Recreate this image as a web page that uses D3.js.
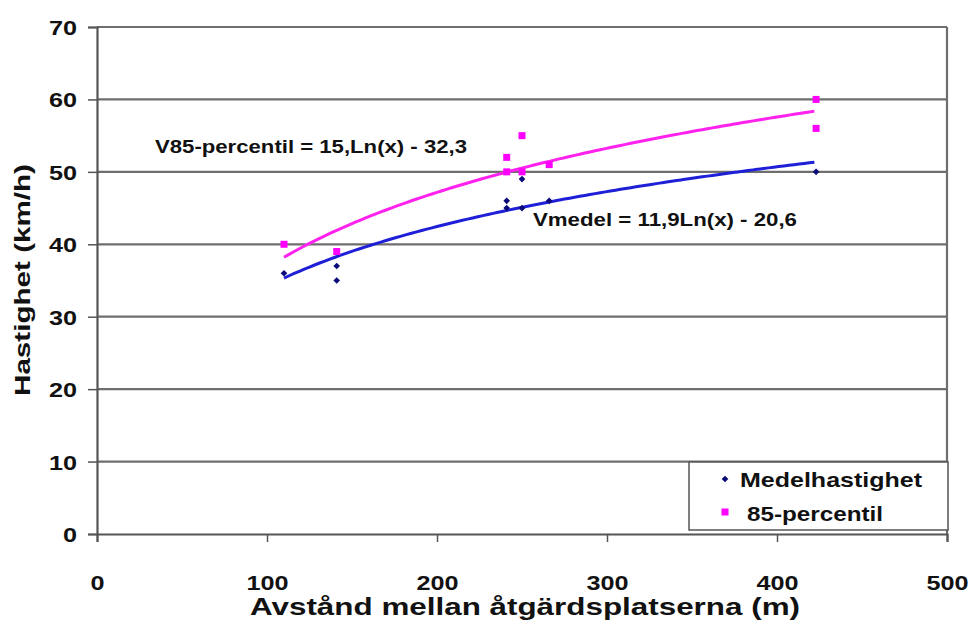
<!DOCTYPE html>
<html>
<head>
<meta charset="utf-8">
<script src="https://cdn.jsdelivr.net/npm/d3@7"></script>
<style>
  body { margin: 0; background: #fff; }
  svg { display: block; }
  text { font-family: "Liberation Sans", Arial, sans-serif; font-weight: bold; fill: #111; }
</style>
</head>
<body>
<svg width="973" height="624"></svg>
<script>
const width = 973, height = 624;

// distances (m) and speeds (km/h)
const medelX = [110, 141, 141, 241, 241, 250, 250, 266, 423];
const medelY = [36, 37, 35, 46, 45, 49, 45, 46, 50];
const p85X = [110, 141, 241, 241, 250, 250, 266, 423, 423];
const p85Y = [40, 39, 52, 50, 55, 50, 51, 60, 56];

// logarithmic trend lines as printed on the chart: a*ln(x) + b
const medelFit = [11.9, -20.6];
const p85Fit = [15, -32.3];
const fitRange = [110, 423];

const xTicks = [0, 100, 200, 300, 400, 500];
const yTicks = [0, 10, 20, 30, 40, 50, 60, 70];

const plot = {left: 97, right: 947, top: 27, bottom: 534};
const sx = 1.2; // the source image is stretched horizontally

const svg = d3.select("svg");

const x = d3.scaleLinear().domain([0, 500]).range([plot.left, plot.right]);
const y = d3.scaleLinear().domain([0, 70]).range([plot.bottom, plot.top]);

// gridlines
svg.append("g")
    .selectAll("line")
    .data(yTicks.slice(1))
    .join("line")
    .attr("x1", plot.left)
    .attr("x2", plot.right)
    .attr("y1", d => y(d))
    .attr("y2", d => y(d))
    .attr("stroke", "#6e6e6e")
    .attr("stroke-width", 2.2);

// right border
svg.append("line")
    .attr("x1", plot.right).attr("x2", plot.right)
    .attr("y1", plot.top).attr("y2", plot.bottom)
    .attr("stroke", "#6e6e6e")
    .attr("stroke-width", 2.2);

// axes
const xAxis = svg.append("g")
    .attr("transform", `translate(0,${plot.bottom})`)
    .call(d3.axisBottom(x).tickValues(xTicks).tickSize(8).tickPadding(33));
const yAxis = svg.append("g")
    .attr("transform", `translate(${plot.left},0)`)
    .call(d3.axisLeft(y).tickValues(yTicks).tickSize(9).tickPadding(18));

[xAxis, yAxis].forEach(a => {
    a.select(".domain").attr("stroke", "#555").attr("stroke-width", 2.2);
    a.selectAll(".tick line").attr("stroke", "#555").attr("stroke-width", 1.5);
    a.selectAll(".tick text")
        .style("font-size", "21px")
        .style("font-family", "Liberation Sans, Arial, sans-serif")
        .style("font-weight", "bold")
        .attr("fill", "#1a1a1a");
});
xAxis.selectAll(".tick text").attr("transform", `scale(${sx},1)`);
yAxis.selectAll(".tick text")
    .attr("x", -20 / sx)
    .attr("dy", "0.36em")
    .attr("transform", `scale(${sx},1)`);

// axis titles
function label(txt, px, py, size, len, anchor) {
    const g = svg.append("g").attr("transform", `translate(${px},${py})`);
    const t = g.append("text")
        .attr("text-anchor", anchor || "start")
        .style("font-size", size + "px")
        .text(txt);
    if (len) t.attr("textLength", len).attr("lengthAdjust", "spacingAndGlyphs");
    return t;
}

label("Avstånd mellan åtgärdsplatserna (m)", 525, 615, 23, 550, "middle");

svg.append("text")
    .attr("transform", `translate(30,280) rotate(-90)`)
    .attr("text-anchor", "middle")
    .style("font-size", "22px")
    .attr("textLength", 232)
    .attr("lengthAdjust", "spacingAndGlyphs")
    .text("Hastighet (km/h)");

// trend lines
const fitXs = d3.range(fitRange[0], fitRange[1] + 1, 3);
const line = d3.line()
    .x(d => x(d[0]))
    .y(d => y(d[1]))
    .curve(d3.curveMonotoneX);

function fitPoints(c) {
    return fitXs.map(v => [v, c[0] * Math.log(v) + c[1]]);
}

svg.append("path")
    .datum(fitPoints(p85Fit))
    .attr("d", line)
    .attr("fill", "none")
    .attr("stroke", "#ff22ee")
    .attr("stroke-width", 3);

svg.append("path")
    .datum(fitPoints(medelFit))
    .attr("d", line)
    .attr("fill", "none")
    .attr("stroke", "#1f1fd8")
    .attr("stroke-width", 3);

// data points
const diamond = d3.symbol().type(d3.symbolSquare).size(22);

svg.append("g")
    .selectAll("path")
    .data(medelX.map((v, i) => [v, medelY[i]]))
    .join("path")
    .attr("d", diamond)
    .attr("transform", d => `translate(${x(d[0])},${y(d[1])}) rotate(45)`)
    .attr("fill", "#0a0a7a");

svg.append("g")
    .selectAll("rect")
    .data(p85X.map((v, i) => [v, p85Y[i]]))
    .join("rect")
    .attr("x", d => x(d[0]) - 3.5)
    .attr("y", d => y(d[1]) - 3.5)
    .attr("width", 7)
    .attr("height", 7)
    .attr("fill", "#ff00ff");

// equation labels
label("V85-percentil = 15,Ln(x) - 32,3", 155, 153, 18, 312);
label("Vmedel = 11,9Ln(x) - 20,6", 533, 226, 18, 264);

// legend
const legend = svg.append("g");
legend.append("rect")
    .attr("x", 689)
    .attr("y", 462)
    .attr("width", 259)
    .attr("height", 68)
    .attr("fill", "#fff")
    .attr("stroke", "#555")
    .attr("stroke-width", 1.5);

legend.append("path")
    .attr("d", diamond)
    .attr("transform", "translate(725,479) rotate(45)")
    .attr("fill", "#0a0a7a");
legend.append("rect")
    .attr("x", 721.5).attr("y", 508.5)
    .attr("width", 7).attr("height", 7)
    .attr("fill", "#ff00ff");

label("Medelhastighet", 740, 487, 21, 182);
label("85-percentil", 747, 521, 21, 136);
</script>
</body>
</html>
